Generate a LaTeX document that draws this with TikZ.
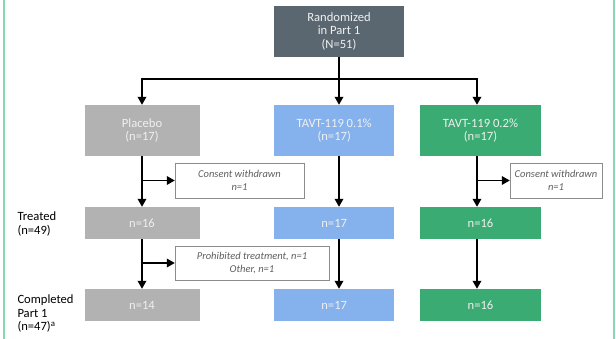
\documentclass[tikz,border=0pt]{standalone}
\usepackage{fontspec}
\setmainfont{Carlito}
\usetikzlibrary{arrows.meta}
\definecolor{slate}{HTML}{5B6770}
\definecolor{pbgray}{HTML}{B1B2B1}
\definecolor{lowblue}{HTML}{85B1ED}
\definecolor{highgreen}{HTML}{3AAB72}
\definecolor{framegreen}{HTML}{86D8AE}
\definecolor{notegray}{HTML}{5F5F5F}
\begin{document}
\begin{tikzpicture}[x=1pt, y=-1pt, font=\fontsize{12.6}{13.6}\selectfont]
      \tikzset{
	  armbox/.style={rectangle, inner sep=0pt, text=white!94!black, align=center, minimum height=51pt},
	  countbox/.style={armbox, minimum height=32pt},
	  notebox/.style={rectangle, draw=black!45, thin, fill=white, inner sep=0pt, text=notegray, align=center, font=\fontsize{10.5}{12.7}\selectfont\itshape},
	  rowlabel/.style={anchor=west, align=left, inner sep=0pt},
	  conn/.style={line width=1.8pt, black},
	  arr/.style={conn, -{Triangle[width=8.5pt,length=8pt]}}
      }
      \useasboundingbox (0,0) rectangle (616,339);
      \draw[framegreen, line width=1.6pt] (3.7,0) -- (3.7,339) (614,0) -- (614,339);

      % top and arms
      \node at (339, 31.5) [armbox, fill=slate, minimum width=130pt] (rand) {Randomized\\in Part 1\\(N=51)};
      \node at (142, 130.5) [armbox, fill=pbgray, minimum width=115pt] (plac) {Placebo\\(n=17)};
      \node at (334.2, 130.5) [armbox, fill=lowblue, minimum width=120.5pt] (low) {TAVT-119 0.1\%\\(n=17)};
      \node at (480.5, 130.5) [armbox, fill=highgreen, minimum width=121pt] (high) {TAVT-119 0.2\%\\(n=17)};

      % treated
      \node at (142, 223) [countbox, fill=pbgray, minimum width=115pt] (plactr) {n=16};
      \node at (334.2, 223) [countbox, fill=lowblue, minimum width=120.5pt] (lowtr) {n=17};
      \node at (480.5, 223) [countbox, fill=highgreen, minimum width=121pt] (hightr) {n=16};

      % completed
      \node at (142, 305) [countbox, fill=pbgray, minimum width=115pt] (placcp) {n=14};
      \node at (334.2, 305) [countbox, fill=lowblue, minimum width=120.5pt] (lowcp) {n=17};
      \node at (480.5, 305) [countbox, fill=highgreen, minimum width=121pt] (highcp) {n=16};

      % discontinuations
      \node at (239.5, 180.5) [notebox, minimum width=129pt, minimum height=35pt] (cwplac) {Consent withdrawn\\n=1};
      \node at (556, 180.5) [notebox, minimum width=92pt, minimum height=35pt] (cwhigh) {Consent withdrawn\\n=1};
      \node at (252, 263) [notebox, minimum width=154pt, minimum height=34pt] (proh) {Prohibited treatment, n=1\\Other, n=1};

      % row labels
      \node at (17.3, 224) [rowlabel] (treated) {Treated\\(n=49)};
      \node at (17.3, 313.5) [rowlabel] (completed) {Completed\\Part 1\\(n=47)\textsuperscript{a}};

      % connectors
      \coordinate (split) at (339, 79);
      \draw[conn] (rand) -- (split);
      \draw[arr] (split) -| (plac.north);
      \draw[arr] (split) -- (low.north -| split);
      \draw[arr] (split) -| ([xshift=-3.5pt]high.north);

      \draw[arr] (plac) -- (plactr);
      \draw[arr] (plactr) -- (placcp);
      \draw[arr] (low.south -| split) -- (lowtr.north -| split);
      \draw[arr] (lowtr.south -| split) -- (lowcp.north -| split);
      \draw[arr] ([xshift=-3.5pt]high.south) -- ([xshift=-3.5pt]hightr.north);
      \draw[arr] ([xshift=-3.5pt]hightr.south) -- ([xshift=-3.5pt]highcp.north);

      \draw[arr] (cwplac.west -| plac) -- (cwplac.west);
      \draw[arr] ([xshift=-3.5pt]cwhigh.west -| high) -- (cwhigh.west);
      \draw[arr] (proh.west -| plac) -- (proh.west);
    \end{tikzpicture}
\end{document}
